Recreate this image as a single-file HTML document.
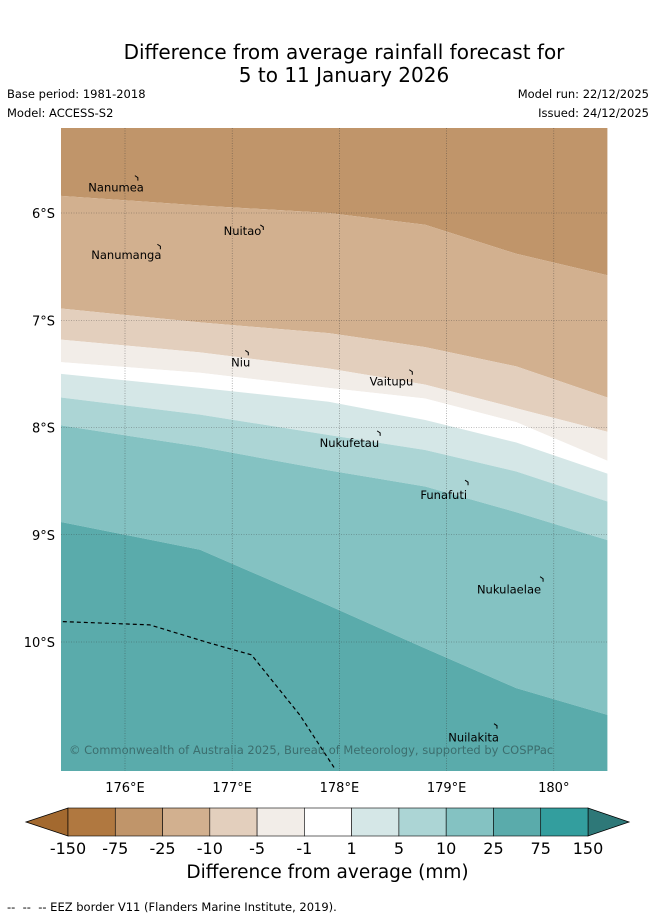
<!DOCTYPE html>
<html><head><meta charset="utf-8">
<style>
body{margin:0;background:#fff;font-family:"DejaVu Sans",sans-serif;}
#wrap{position:relative;width:655px;height:919px;overflow:hidden}
.t{position:absolute;color:#000;white-space:nowrap}
</style></head>
<body>
<div id="wrap">
<div class="t" style="left:0;width:688px;text-align:center;top:41px;font-size:20px;line-height:23px">Difference from average rainfall forecast for<br>5 to 11 January 2026</div>
<div class="t" style="left:7px;top:87px;font-size:11.5px">Base period: 1981-2018</div>
<div class="t" style="left:7px;top:106px;font-size:11.5px">Model: ACCESS-S2</div>
<div class="t" style="right:6px;top:87px;font-size:11.5px">Model run: 22/12/2025</div>
<div class="t" style="right:6px;top:106px;font-size:11.5px">Issued: 24/12/2025</div>
<svg id="map" width="655" height="919" style="position:absolute;left:0;top:0"></svg>
<div class="t" style="left:0;width:655px;text-align:center;top:862px;font-size:18.5px">Difference from average (mm)</div>
<div class="t" style="left:7px;top:900px;font-size:11.5px">-- &nbsp;-- &nbsp;-- EEZ border V11 (Flanders Marine Institute, 2019).</div>
</div>
<script>
const lons=[175.4,176.7,177.9,178.8,179.65,180.5];
const boundaries=[
[5.84,5.93,6.00,6.11,6.38,6.58],
[6.89,7.02,7.12,7.25,7.43,7.72],
[7.18,7.30,7.45,7.60,7.82,8.04],
[7.39,7.49,7.63,7.73,7.95,8.31],
[7.50,7.63,7.76,7.93,8.14,8.43],
[7.72,7.88,8.07,8.21,8.41,8.69],
[7.98,8.18,8.40,8.55,8.79,9.05],
[8.88,9.14,9.66,10.06,10.43,10.68]
];
const bandColors=['#c0956a','#d2b08f','#e3cfbd','#f2ede8','#ffffff','#d5e7e7','#acd5d5','#84c2c2','#5aabab'];
const eezLon=[175.42,176.23,176.79,177.18,177.63,177.95];
const eezLat=[9.81,9.84,10.01,10.12,10.68,11.17];
const islands=[["Nanumea",176.12,5.67,6,14],["Nuitao",177.29,6.13,-2,8],["Nanumanga",176.33,6.31,1,13],["Niu",177.15,7.30,2,14],["Vaitupu",178.68,7.48,1,14],["Nukufetau",178.38,8.05,-1,14],["Funafuti",179.2,8.51,-1,17],["Nukulaelae",179.9,9.41,-2,15],["Nuilakita",179.47,10.78,2,16]];
const lonTicks=[176,177,178,179,180];
const lonLabels=["176°E","177°E","178°E","179°E","180°"];
const latTicks=[6,7,8,9,10];
const latLabels=["6°S","7°S","8°S","9°S","10°S"];
const cbLabels=["-150","-75","-25","-10","-5","-1","1","5","10","25","75","150"];
const cbColors=['#b07840','#c0956a','#d2b08f','#e3cfbd','#f2ede8','#ffffff','#d5e7e7','#acd5d5','#84c2c2','#5aabab','#339e9e'];
const L=61,R=608,T=128,B=771;
const X=lon=>125+(lon-176)*107.2;
const Y=lat=>213+(lat-6)*107.25;
const NS='http://www.w3.org/2000/svg';
const FF='DejaVu Sans, sans-serif';
const svg=document.getElementById('map');
function mk(tag,attrs,parent){const e=document.createElementNS(NS,tag);for(const k in attrs)e.setAttribute(k,attrs[k]);(parent||svg).appendChild(e);return e;}
const clip=mk('clipPath',{id:'cp'});mk('rect',{x:L,y:T,width:R-L,height:B-T},clip);
const g=mk('g',{'clip-path':'url(#cp)'});
for(let i=0;i<bandColors.length;i++){
  let top=i===0?null:boundaries[i-1], bot=i<boundaries.length?boundaries[i]:null;
  let pts=[];
  if(top){lons.forEach((ln,j)=>pts.push(X(ln)+','+Y(top[j])));}else{pts.push(X(lons[0])+','+(T-5));pts.push(X(lons[lons.length-1])+','+(T-5));}
  if(bot){for(let j=lons.length-1;j>=0;j--)pts.push(X(lons[j])+','+Y(bot[j]));}else{pts.push(X(lons[lons.length-1])+','+(B+5));pts.push(X(lons[0])+','+(B+5));}
  const p=mk('polygon',{points:pts.join(' '),fill:bandColors[i]},g);
  
  
}
lonTicks.forEach((ln,i)=>{
  const l=mk('line',{x1:X(ln),x2:X(ln),y1:T,y2:B,stroke:'#333','stroke-width':0.6,'stroke-dasharray':'1,1.5','stroke-opacity':0.6});
  
  
  const t=mk('text',{x:X(ln),y:792,'font-size':13,'text-anchor':'middle','font-family':FF});
  t.textContent=lonLabels[i];
  
  
});
latTicks.forEach((lt,i)=>{
  const l=mk('line',{x1:L,x2:R,y1:Y(lt),y2:Y(lt),stroke:'#333','stroke-width':0.6,'stroke-dasharray':'1,1.5','stroke-opacity':0.6});
  
  
  const t=mk('text',{x:55,y:Y(lt)+5,'font-size':13,'text-anchor':'end','font-family':FF});
  t.textContent=latLabels[i];
  
  
});
const eez=mk('polyline',{points:eezLon.map((ln,j)=>X(ln)+','+Y(eezLat[j])).join(' '),fill:'none',stroke:'#000','stroke-width':1.2,'stroke-dasharray':'4,3'},g);


islands.forEach(d=>{
  const x=X(d[1]),y=Y(d[2]);
  const m=mk('path',{d:`M${x-3},${y-2} L${x},${y} L${x},${y+3}`,stroke:'#000',fill:'none','stroke-width':1});
  
  
  const t=mk('text',{x:x+d[3],y:y+d[4],'font-size':11.5,'text-anchor':'end','font-family':FF});
  t.textContent=d[0];
  
  
});
const cr=mk('text',{x:69,y:754,'font-size':11.5,fill:'#3c6e6e','font-family':FF});
cr.textContent='© Commonwealth of Australia 2025, Bureau of Meteorology, supported by COSPPac';


const cx0=68,cx1=588,cy=808,ch=28,bw=(cx1-cx0)/cbColors.length;
const lt=mk('polygon',{points:`26,${cy+ch/2} ${cx0},${cy} ${cx0},${cy+ch}`,fill:'#a3692f',stroke:'#000','stroke-width':0.8});


const rt=mk('polygon',{points:`629,${cy+ch/2} ${cx1},${cy} ${cx1},${cy+ch}`,fill:'#2e7878',stroke:'#000','stroke-width':0.8});


cbColors.forEach((c,i)=>{
  const r=mk('rect',{x:cx0+i*bw,y:cy,width:bw,height:ch,fill:c,stroke:'#000','stroke-width':0.6});
  
  
});
cbLabels.forEach((s,i)=>{
  const t=mk('text',{x:cx0+i*bw,y:854,'font-size':16,'text-anchor':'middle','font-family':FF});
  t.textContent=s;
  
  
});
</script>
</body></html>
